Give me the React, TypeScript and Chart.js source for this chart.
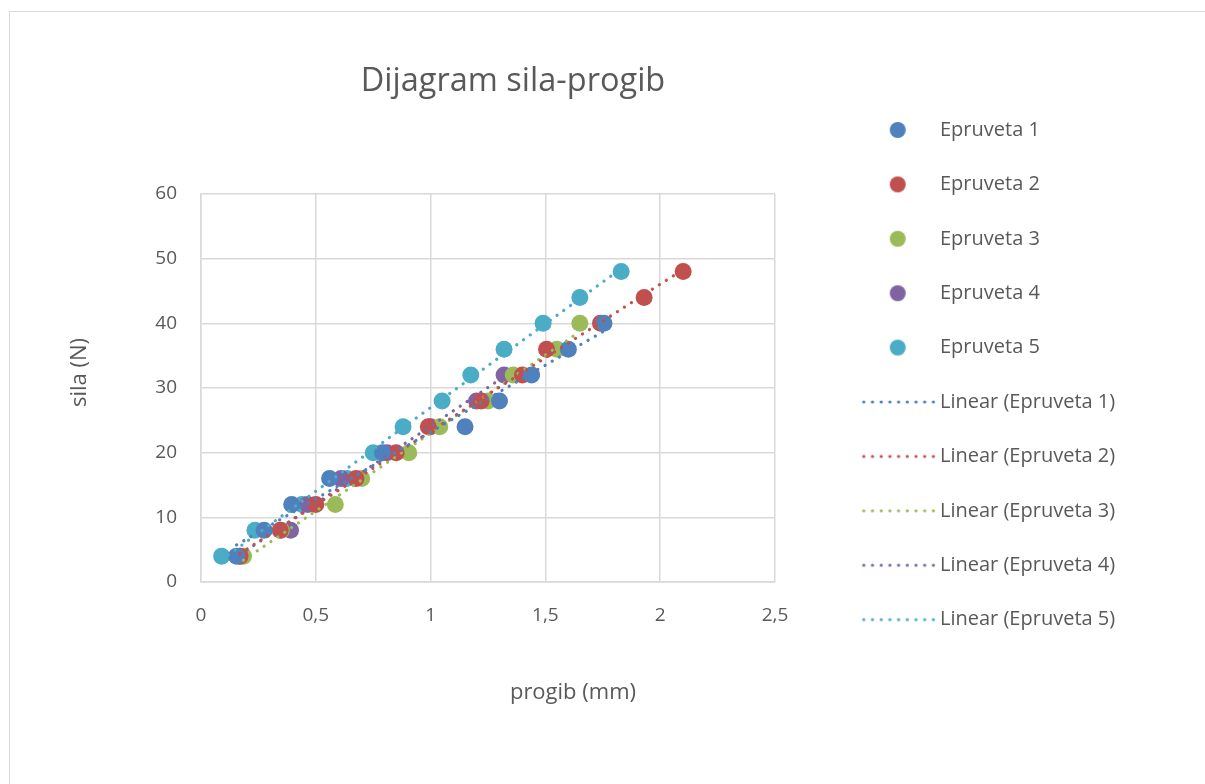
import { useEffect, useRef } from "react";
import { Chart, registerables } from "chart.js";

Chart.register(...registerables);

const FONT = "'Open Sans', 'Noto Sans', sans-serif";
const TEXT = "#595959";
const GRID = "#d9d9d9";

const chartTitle = "Dijagram sila-progib";
const xAxisTitle = "progib (mm)";
const yAxisTitle = "sila (N)";

const seriesNames = ["Epruveta 1", "Epruveta 2", "Epruveta 3", "Epruveta 4", "Epruveta 5"];
const seriesColors = ["#4F81BD", "#C0504D", "#9BBB59", "#8064A2", "#4BACC6"];

// progib (mm)
const ep1X = [0.155, 0.275, 0.395, 0.56, 0.79, 1.15, 1.3, 1.44, 1.6, 1.755];
const ep2X = [0.17, 0.345, 0.5, 0.675, 0.85, 0.99, 1.22, 1.4, 1.505, 1.74, 1.93, 2.1];
const ep3X = [0.185, 0.35, 0.585, 0.7, 0.905, 1.04, 1.25, 1.36, 1.55, 1.65];
const ep4X = [0.17, 0.39, 0.465, 0.61, 0.81, 1.0, 1.2, 1.32];
const ep5X = [0.09, 0.235, 0.44, 0.635, 0.75, 0.88, 1.05, 1.175, 1.32, 1.49, 1.65, 1.83];

// sila (N)
const ep1Y = [4, 8, 12, 16, 20, 24, 28, 32, 36, 40];
const ep2Y = [4, 8, 12, 16, 20, 24, 28, 32, 36, 40, 44, 48];
const ep3Y = [4, 8, 12, 16, 20, 24, 28, 32, 36, 40];
const ep4Y = [4, 8, 12, 16, 20, 24, 28, 32];
const ep5Y = [4, 8, 12, 16, 20, 24, 28, 32, 36, 40, 44, 48];

const xTicks = { min: 0, max: 2.5, step: 0.5 };
const yTicks = { min: 0, max: 60, step: 10 };

const seriesX = [ep1X, ep2X, ep3X, ep4X, ep5X];
const seriesY = [ep1Y, ep2Y, ep3Y, ep4Y, ep5Y];

// least-squares trend line over the data's x-range (like Excel "Linear" trendline)
function trendPoints(xs: number[], ys: number[]) {
  const n = xs.length;
  const mx = xs.reduce((a, b) => a + b, 0) / n;
  const my = ys.reduce((a, b) => a + b, 0) / n;
  let sxy = 0;
  let sxx = 0;
  for (let i = 0; i < n; i++) {
    sxy += (xs[i] - mx) * (ys[i] - my);
    sxx += (xs[i] - mx) * (xs[i] - mx);
  }
  const b = sxy / sxx;
  const a = my - b * mx;
  const x0 = Math.min(...xs);
  const x1 = Math.max(...xs);
  return [
    { x: x0, y: a + b * x0 },
    { x: x1, y: a + b * x1 },
  ];
}

function makeIcon(color: string, kind: "dot" | "line") {
  const c = document.createElement("canvas");
  c.width = 140;
  c.height = 20;
  const ctx = c.getContext("2d")!;
  const cx = 70 + 28;
  if (kind === "dot") {
    ctx.fillStyle = color;
    ctx.beginPath();
    ctx.arc(cx, 10, 8, 0, Math.PI * 2);
    ctx.fill();
  } else {
    ctx.strokeStyle = color;
    ctx.lineWidth = 3.2;
    ctx.lineCap = "round";
    ctx.setLineDash([0.1, 8.6]);
    ctx.beginPath();
    ctx.moveTo(cx - 34, 10);
    ctx.lineTo(cx + 36, 10);
    ctx.stroke();
  }
  return c;
}

const axisTitlesPlugin = {
  id: "axisTitlesCustom",
  afterDraw(chart: any) {
    const { ctx, chartArea } = chart;
    const w = chartArea.right - chartArea.left;
    const h = chartArea.bottom - chartArea.top;
    ctx.save();
    ctx.fillStyle = TEXT;
    ctx.font = `22px ${FONT}`;
    ctx.textAlign = "center";
    ctx.textBaseline = "middle";
    ctx.fillText(xAxisTitle, chartArea.left + w * 0.648, chartArea.bottom + 111);
    ctx.translate(80, chartArea.top + h * 0.46);
    ctx.rotate(-Math.PI / 2);
    ctx.fillText(yAxisTitle, 0, 0);
    ctx.restore();
  },
};

export default function App() {
  const ref = useRef<HTMLCanvasElement | null>(null);

  useEffect(() => {
    if (!ref.current) return;
    const icons = [
      ...seriesColors.map((c) => makeIcon(c, "dot")),
      ...seriesColors.map((c) => makeIcon(c, "line")),
    ];

    const scatterSets = seriesNames.map((name, i) => ({
      type: "scatter" as const,
      label: name,
      data: seriesX[i].map((x, j) => ({ x, y: seriesY[i][j] })),
      backgroundColor: seriesColors[i],
      borderWidth: 0,
      pointRadius: 8.5,
      pointHoverRadius: 8.5,
      order: 2,
    }));
    const trendSets = seriesNames.map((name, i) => ({
      type: "line" as const,
      label: `Linear (${name})`,
      data: trendPoints(seriesX[i], seriesY[i]),
      borderColor: seriesColors[i],
      backgroundColor: seriesColors[i],
      borderWidth: 3.2,
      borderDash: [0.1, 8.2],
      borderCapStyle: "round" as const,
      pointRadius: 0,
      fill: false,
      order: 1,
    }));

    const tickFont = { family: FONT, size: 19 };
    const fmt = (v: any) => String(v).replace(".", ",");

    const chart = new Chart(ref.current, {
      type: "scatter",
      data: { datasets: [...scatterSets, ...trendSets] as any },
      options: {
        responsive: false,
        animation: false,
        events: [],
        layout: { padding: { left: -94, right: 85, top: 0, bottom: 34.4 } },
        plugins: {
          title: {
            display: true,
            text: chartTitle,
            color: TEXT,
            font: { family: FONT, size: 32.5, weight: "normal" },
            padding: { top: 62.5, bottom: 92.5 },
          },
          legend: {
            position: "right",
            align: "center",
            maxWidth: 345,
            labels: {
              usePointStyle: true,
              pointStyleWidth: 120.6,
              padding: 34.4,
              color: TEXT,
              font: { family: FONT, size: 20 },
              generateLabels: (ch: any) =>
                ch.data.datasets.map((ds: any, i: number) => ({
                  text: ds.label,
                  pointStyle: icons[i],
                  fillStyle: "rgba(0,0,0,0)",
                  strokeStyle: "rgba(0,0,0,0)",
                  lineWidth: 0,
                  hidden: false,
                  datasetIndex: i,
                  fontColor: TEXT,
                })),
            },
          },
          tooltip: { enabled: false },
        },
        scales: {
          x: {
            type: "linear",
            min: xTicks.min,
            max: xTicks.max,
            ticks: { stepSize: xTicks.step, padding: 22, color: TEXT, font: tickFont, callback: fmt },
            grid: { color: GRID, lineWidth: 1.5, drawTicks: false },
            border: { color: GRID, width: 1.5 },
            afterFit: (s: any) => {
              s.height = 167.6;
            },
          },
          y: {
            type: "linear",
            min: yTicks.min,
            max: yTicks.max,
            ticks: { stepSize: yTicks.step, padding: 24, color: TEXT, font: tickFont, callback: fmt },
            grid: { color: GRID, lineWidth: 1.5, drawTicks: false },
            border: { color: GRID, width: 1.5 },
            afterFit: (s: any) => {
              s.width = 295;
            },
          },
        },
      } as any,
      plugins: [axisTitlesPlugin],
    });
    return () => chart.destroy();
  }, []);

  return (
    <div
      style={{
        position: "absolute",
        left: 0,
        top: 0,
        width: 1205,
        height: 784,
        overflow: "hidden",
        background: "#fff",
      }}
    >
      <div
        style={{
          position: "absolute",
          left: 9,
          top: 11,
          width: 1220,
          height: 820,
          border: "1.5px solid #d9d9d9",
          boxSizing: "border-box",
        }}
      />
      <canvas
        ref={ref}
        width={1205}
        height={784}
        style={{ position: "absolute", left: 0, top: 0, width: 1205, height: 784 }}
      />
    </div>
  );
}
